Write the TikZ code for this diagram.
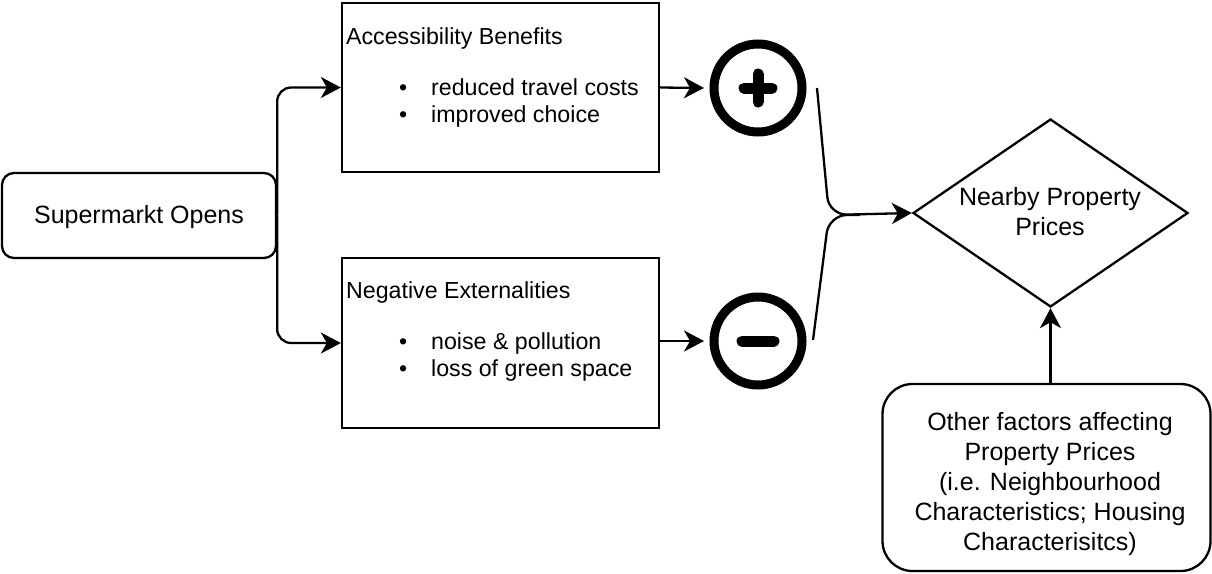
\documentclass[tikz,border=0pt]{standalone}
\usepackage{fontspec}
\setmainfont{Liberation Sans}
\usetikzlibrary{arrows.meta,shapes.geometric}
\tikzset{
  arr/.style={-{Stealth[length=20pt,width=21pt,inset=6pt]}},
  plainbox/.style={draw, line width=2.3pt, inner sep=0pt},
  bigtxt/.style={font=\fontsize{25}{30}\selectfont, align=center, inner sep=0pt},
  boxtxt/.style={font=\fontsize{23.2}{27}\selectfont, inner sep=0pt, anchor=mid west},
  sign/.style={circle, draw, line width=9pt, minimum size=88pt, inner sep=0pt, outer sep=10pt},
  bar/.style={line width=11pt, line cap=round},
}
\begin{document}
\begin{tikzpicture}[x=1pt,y=-1pt,line width=2.3pt]
\useasboundingbox (0,0) rectangle (1212,573);

% left box
\node[plainbox, rounded corners=12pt, minimum width=274pt, minimum height=85pt] (sup) at (139,215.5) {};
\node[bigtxt] (suptxt) at (139,217.5) {Supermarkt Opens};

% accessibility box
\node[plainbox, minimum width=317pt, minimum height=169pt] (acc) at (500.5,87.5) {};
\node[boxtxt] (acct) at (345,42) {Accessibility Benefits};
\node[boxtxt] (accb1) at (398,93) {\textbullet};
\node[boxtxt] (acc1) at (430,93) {reduced travel costs};
\node[boxtxt] (accb2) at (398,120) {\textbullet};
\node[boxtxt] (acc2) at (430,120) {improved choice};

% negative box
\node[plainbox, minimum width=317pt, minimum height=170pt] (neg) at (500.5,343) {};
\node[boxtxt] (negt) at (345,296) {Negative Externalities};
\node[boxtxt] (negb1) at (398,347) {\textbullet};
\node[boxtxt] (neg1) at (430,347) {noise \& pollution};
\node[boxtxt] (negb2) at (398,374) {\textbullet};
\node[boxtxt] (neg2) at (430,374) {loss of green space};

% connectors from left box
\draw[arr, rounded corners=14pt] (sup.east) |- (acc.west);
\draw[arr, rounded corners=14pt] (sup.east) |- (neg.west);

% plus / minus circles
\node[sign] (plus) at (758,88) {};
\draw[bar] ([xshift=-14pt]plus.center) -- ([xshift=14pt]plus.center);
\draw[bar] ([yshift=-14pt]plus.center) -- ([yshift=14pt]plus.center);
\node[sign] (minus) at (758,341) {};
\draw[bar] ([xshift=-16pt]minus.center) -- ([xshift=16pt]minus.center);

\draw[arr] (acc.east) -- (plus.west);
\draw[arr] (neg.east |- minus.west) -- (minus.west);

% diamond
\node[diamond, draw, line width=2.3pt, minimum width=275pt, minimum height=188pt, inner sep=0pt] (dia) at (1050.5,213) {};
\node[bigtxt] (diatxt) at (1050,212) {Nearby Property\\Prices};

% merge
\coordinate (b1) at (817,88);
\coordinate (b2) at (813,340);
\coordinate (jn) at (829,215);
\draw[arr, rounded corners=18pt] (b1) -- (jn) -- (dia.west);
\draw[rounded corners=18pt] (b2) -- (jn) -- (860,215);

% other factors
\node[plainbox, rounded corners=30pt, minimum width=328pt, minimum height=187pt] (oth) at (1046.5,477.5) {};
\node[bigtxt] (othtxt) at (1050,484) {Other factors affecting\\Property Prices\\(i.e. Neighbourhood\\Characteristics; Housing\\Characterisitcs)};
\draw[arr] (oth.north -| dia.south) -- (dia.south);
\end{tikzpicture}
\end{document}
